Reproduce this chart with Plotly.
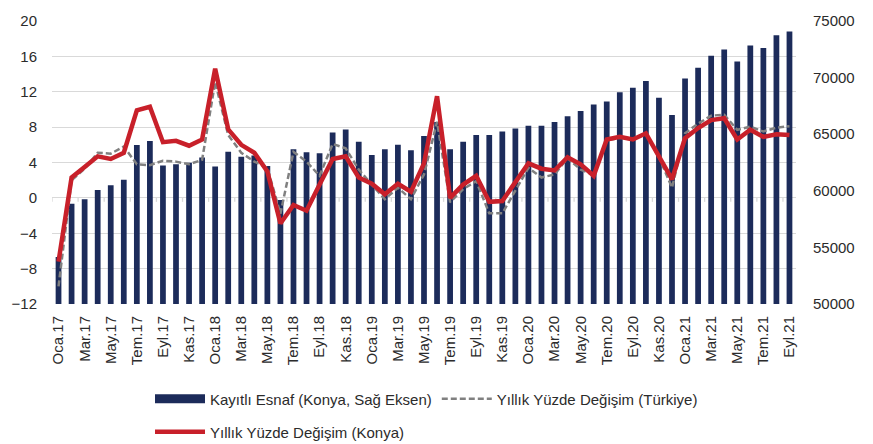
import plotly.graph_objects as go

# Month labels (Turkish abbreviations), Jan 2017 - Sep 2021
month_abbr = ["Oca", "Şub", "Mar", "Nis", "May", "Haz",
              "Tem", "Ağu", "Eyl", "Eki", "Kas", "Ara"]
years = ["17", "18", "19", "20", "21"]
months = [f"{m}.{y}" for y in years for m in month_abbr][:57]

# Registered tradesmen in Konya (right axis)
esnaf_konya = [
    54150, 58850, 59250, 60080, 60500, 60980, 64050, 64400, 62240, 62350, 62470, 62940,
    62150, 63460, 63000, 63110, 62180, 59180, 63670, 63400, 63320, 65150, 65410, 64340,
    63170, 63670, 64070, 63580, 64830, 66080, 63670, 64340, 64920, 64920, 65240, 65500,
    65740, 65740, 66080, 66580, 67050, 67630, 67890, 68710, 69110, 69700, 68210, 66700,
    69930, 70860, 71940, 72490, 71420, 72840, 72610, 73750, 74070,
]

# Annual % change, Türkiye (left axis)
degisim_turkiye = [
    -10.0, 2.0, 3.3, 5.1, 5.0, 5.8, 3.8, 3.7, 4.2, 4.1, 3.8, 4.3,
    13.1, 7.1, 5.1, 4.1, 3.4, -1.8, 5.2, 4.1, 2.5, 6.1, 5.6, 3.2,
    1.5, -0.15, 1.15, -0.15, 2.65, 8.6, -0.5, 1.0, 1.9, -1.75, -1.75, 0.8,
    3.4, 2.3, 2.65, 4.5, 3.2, 2.6, 6.5, 6.8, 6.6, 7.2, 4.6, 1.15,
    7.3, 8.4, 9.3, 9.4, 7.7, 8.05, 7.5, 7.95, 8.1,
]

# Annual % change, Konya (left axis)
degisim_konya = [
    -7.2, 2.3, 3.5, 4.7, 4.4, 5.1, 9.9, 10.3, 6.3, 6.45, 5.9, 6.6,
    14.6, 7.75, 6.0, 5.1, 3.0, -2.9, -0.8, -1.45, 1.5, 4.4, 4.7, 2.3,
    1.6, 0.4, 1.6, 0.7, 3.9, 11.5, 0.0, 1.5, 2.5, -0.45, -0.35, 1.8,
    3.9, 3.3, 3.1, 4.6, 3.8, 2.5, 6.6, 6.9, 6.6, 7.3, 4.7, 2.1,
    6.75, 7.9, 8.8, 9.0, 6.6, 7.7, 6.9, 7.2, 7.1,
]

NAVY = "#1c2b5a"
RED = "#c8202a"
GREY = "#808080"
GRID = "#d9d9d9"
TEXT = "#2b2b2b"
FONT = "Liberation Sans, Arial, sans-serif"

fig = go.Figure()

fig.add_trace(go.Bar(
    x=months, y=esnaf_konya, yaxis="y",
    marker=dict(color=NAVY, line=dict(width=0)),
    name="Kayıtlı Esnaf (Konya, Sağ Eksen)",
    legendgroup="esnaf", showlegend=False,
))
# wide swatch for the bar series in the legend
fig.add_trace(go.Scatter(
    x=[None], y=[None], yaxis="y2", mode="lines",
    line=dict(color=NAVY, width=9),
    name="Kayıtlı Esnaf (Konya, Sağ Eksen)",
    legendgroup="esnaf", legend="legend",
))
fig.add_trace(go.Scatter(
    x=months, y=degisim_turkiye, yaxis="y2", mode="lines",
    line=dict(color=GREY, width=2.5, dash="6px,3px"),
    name="Yıllık Yüzde Değişim (Türkiye)", legend="legend",
))
fig.add_trace(go.Scatter(
    x=months, y=degisim_konya, yaxis="y2", mode="lines",
    line=dict(color=RED, width=4.5),
    name="Yıllık Yüzde Değişim (Konya)", legend="legend2",
))

# small tick marks along the zero line, every two months
shapes = [
    dict(type="line", xref="x", yref="y2", x0=-0.5 + 2 * k, x1=-0.5 + 2 * k,
         y0=0, y1=-0.45, line=dict(color=GRID, width=1.3), layer="below")
    for k in range(29)
]

fig.update_layout(
    width=873, height=444,
    margin=dict(l=50, r=77, t=18, b=140),
    paper_bgcolor="white", plot_bgcolor="white",
    font=dict(family=FONT, size=15, color=TEXT),
    bargap=0.56,
    shapes=shapes,
    xaxis=dict(
        type="category", range=[-0.5, 56.5],
        tickmode="array", tickvals=months[::2], ticktext=months[::2],
        tickangle=-90, tickfont=dict(size=15, color=TEXT),
        ticks="", showgrid=False, showline=False, zeroline=False,
        ticklabelstandoff=8,
    ),
    yaxis=dict(
        side="right", range=[50000, 75000], dtick=5000, tickformat="d",
        showgrid=False, zeroline=False, showline=False, ticks="",
        tickfont=dict(size=15, color=TEXT), ticklabelstandoff=16,
    ),
    yaxis2=dict(
        overlaying="y", side="left", range=[-12, 20], dtick=4,
        showgrid=True, gridcolor=GRID, gridwidth=1.3,
        zeroline=False, showline=False, ticks="",
        tickfont=dict(size=15, color=TEXT), ticklabelstandoff=14,
    ),
    legend=dict(
        orientation="h", xref="container", yref="container",
        x=150 / 873, y=1 - 399 / 444, xanchor="left", yanchor="middle",
        itemwidth=50, bgcolor="rgba(0,0,0,0)", font=dict(size=15, color=TEXT),
    ),
    legend2=dict(
        orientation="h", xref="container", yref="container",
        x=150 / 873, y=1 - 432 / 444, xanchor="left", yanchor="middle",
        itemwidth=50, bgcolor="rgba(0,0,0,0)", font=dict(size=15, color=TEXT),
    ),
)

fig.write_html("out.html")
